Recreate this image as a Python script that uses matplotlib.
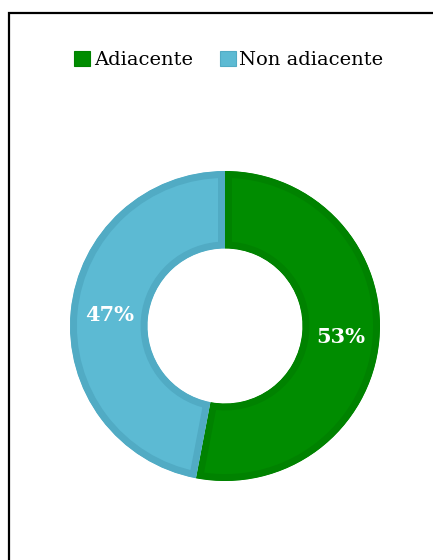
import numpy as np
import matplotlib.pyplot as plt
from matplotlib.patches import Patch, Rectangle

labels = ["Adiacente", "Non adiacente"]
values = [53, 47]
fill_colors = ["#008C00", "#5CBAD3"]
edge_colors = ["#008200", "#51ABC4"]

plt.rcParams["font.family"] = ["DejaVu Serif"]

fig = plt.figure(figsize=(4.33, 5.6), dpi=100)

# outer frame (only left and top edges fall inside the image)
fig.patches.append(
    Rectangle((9 / 433, -0.1), 1.2, (560 - 13) / 560 + 0.1,
              transform=fig.transFigure, fill=False,
              edgecolor="black", linewidth=1.6)
)

ax = fig.add_axes([70 / 433, (560 - 481) / 560, 310 / 433, 310 / 560])

wedges, texts = ax.pie(
    values,
    colors=fill_colors,
    startangle=90,
    counterclock=False,
    radius=1,
    wedgeprops=dict(width=0.5, linewidth=10),
)

# darker inner border on each ring segment
for w, ec in zip(wedges, edge_colors):
    w.set_edgecolor(ec)
    w.set_clip_on(True)
    w.set_clip_path(w)

# percentage labels at the middle of the ring
total = sum(values)
start = 90.0
for v in values:
    sweep = 360.0 * v / total
    mid = np.deg2rad(start - sweep / 2)
    ax.text(0.75 * np.cos(mid), 0.75 * np.sin(mid), f"{v}%",
            ha="center", va="center", color="white",
            fontsize=15, fontweight="bold")
    start -= sweep

ax.set_xlim(-1, 1)
ax.set_ylim(-1, 1)
ax.set_aspect("equal")
ax.axis("off")

handles = [Patch(facecolor=c, edgecolor=e, linewidth=0.8)
           for c, e in zip(fill_colors, edge_colors)]
fig.legend(
    handles, labels,
    loc="center", bbox_to_anchor=(229 / 433, 1 - 60 / 560),
    ncol=2, frameon=False, fontsize=14,
    handlelength=0.8, handleheight=0.8,
    handletextpad=0.2, columnspacing=1.4,
)

fig.savefig("out.png", dpi=100)
